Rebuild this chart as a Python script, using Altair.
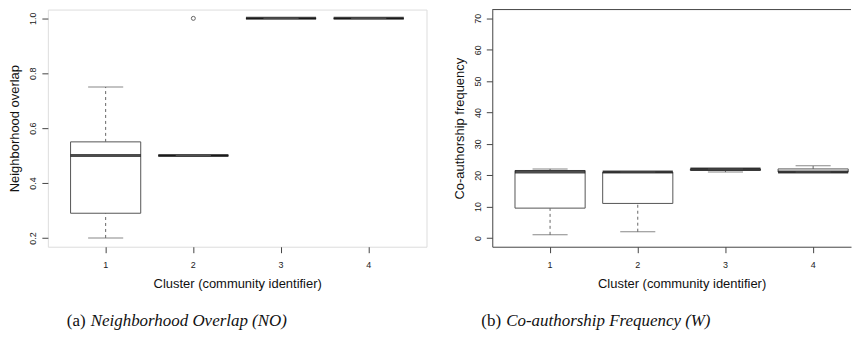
import altair as alt
import pandas as pd

clusters = ["1", "2", "3", "4"]

# (a) Neighborhood overlap (NO) per cluster: whisker low, Q1, median, Q3, whisker high
no_low = [0.20, 0.50, 1.00, 1.00]
no_q1 = [0.29, 0.50, 1.00, 1.00]
no_med = [0.50, 0.50, 1.00, 1.00]
no_q3 = [0.55, 0.50, 1.00, 1.00]
no_high = [0.75, 0.50, 1.00, 1.00]
no_out_cluster = ["2"]
no_out_value = [1.0]
no_ticks = [0.2, 0.4, 0.6, 0.8, 1.0]

# (b) Co-authorship frequency (W) per cluster
w_low = [1, 2, 21, 21]
w_q1 = [9.5, 11, 21.5, 21]
w_med = [21, 21, 22, 21]
w_q3 = [21.5, 21, 22, 22]
w_high = [22, 21, 22, 23]
w_out_cluster = []
w_out_value = []
w_ticks = [0, 10, 20, 30, 40, 50, 60, 70]

SANS = "Liberation Sans"
SERIF = "Liberation Serif"
FULL_W, PLOT_H = 380, 238
STEP = 88.0               # pixel distance between clusters
FIRST = 58.0              # centre of first cluster from the left frame
FRAME = "#444"


def panel(low, q1, med, q3, high, out_c, out_v, ydomain, yticks, yfmt, ytitle,
          cap_label, cap_text, cap_x, text_x, view_w, cut_right):
    df = pd.DataFrame({"cluster": clusters, "low": low, "q1": q1, "med": med,
                       "q3": q3, "high": high})
    p_outer = (view_w / STEP - 3.8) / 2
    align = (FIRST - 0.4 * STEP) / (view_w - 3.8 * STEP)
    xscale = alt.Scale(type="band", paddingInner=0.2, paddingOuter=p_outer,
                       align=align)
    xaxis = alt.Axis(title="Cluster (community identifier)", labelAngle=0,
                     domain=cut_right, domainColor=FRAME, domainWidth=1,
                     grid=False, tickSize=6, tickColor=FRAME,
                     labelFont=SANS, labelFontSize=9, labelColor="#222",
                     labelPadding=8, titleFont=SANS, titleFontSize=13,
                     titleFontWeight="normal", titleColor="#111",
                     titlePadding=8, titleX=FULL_W / 2)
    yscale = alt.Scale(domain=ydomain, nice=False, zero=False)
    yaxis = alt.Axis(title=ytitle, values=yticks, format=yfmt, labelAngle=270,
                     labelAlign="center", labelBaseline="alphabetic",
                     labelPadding=6, labelFlush=False, labelOverlap=False,
                     labelSeparation=0, labelBound=False,
                     domain=cut_right, domainColor=FRAME, domainWidth=1,
                     grid=False, tickSize=6, tickColor=FRAME, labelFont=SANS,
                     labelFontSize=9, labelColor="#222", titleFont=SANS,
                     titleFontSize=13, titleFontWeight="normal",
                     titleColor="#111", titlePadding=7)
    x = alt.X("cluster:O", scale=xscale, axis=xaxis)
    base = alt.Chart(df)

    wh_hi = base.mark_rule(color="#666", strokeDash=[3, 3], strokeWidth=1).encode(
        x=x, y=alt.Y("q3:Q", scale=yscale, axis=yaxis), y2="high:Q")
    wh_lo = base.mark_rule(color="#666", strokeDash=[3, 3], strokeWidth=1).encode(
        x=x, y=alt.Y("low:Q", scale=yscale, axis=yaxis), y2="q1:Q")
    box = base.mark_bar(fill="white", stroke="#555", strokeWidth=1).encode(
        x=x, y=alt.Y("q1:Q", scale=yscale, axis=yaxis), y2="q3:Q")
    median = base.mark_tick(color="black", thickness=3, size=0.8 * STEP).encode(
        x=x, y=alt.Y("med:Q", scale=yscale, axis=yaxis))
    st_hi = base.mark_tick(color="#555", thickness=1, size=0.4 * STEP).encode(
        x=x, y=alt.Y("high:Q", scale=yscale, axis=yaxis))
    st_lo = base.mark_tick(color="#555", thickness=1, size=0.4 * STEP).encode(
        x=x, y=alt.Y("low:Q", scale=yscale, axis=yaxis))
    layers = [wh_hi, wh_lo, box, median, st_hi, st_lo]
    if out_c:
        odf = pd.DataFrame({"cluster": out_c, "value": out_v})
        outl = alt.Chart(odf).mark_point(shape="circle", filled=False,
                                         color="#222", size=16,
                                         strokeWidth=1).encode(
            x=x, y=alt.Y("value:Q", scale=yscale, axis=yaxis))
        layers.append(outl)
    if cut_right:
        top = alt.Chart(pd.DataFrame({"k": [0]})).mark_rule(
            color=FRAME, strokeWidth=1).encode(
            x=alt.value(0), x2=alt.value(view_w), y=alt.value(0))
        layers.append(top)
    cap1 = alt.Chart(pd.DataFrame({"t": [cap_label]})).mark_text(
        font=SERIF, fontSize=17, align="left", baseline="alphabetic",
        color="#111").encode(text="t:N", x=alt.value(cap_x), y=alt.value(318))
    cap2 = alt.Chart(pd.DataFrame({"t": [cap_text]})).mark_text(
        font=SERIF, fontSize=17, fontStyle="italic", align="left",
        baseline="alphabetic", color="#111").encode(
        text="t:N", x=alt.value(text_x), y=alt.value(318))
    layers += [cap1, cap2]
    ch = alt.layer(*layers).properties(width=view_w, height=PLOT_H)
    if cut_right:
        ch = ch.properties(view=alt.ViewBackground(stroke="transparent"))
    return ch


left = panel(no_low, no_q1, no_med, no_q3, no_high, no_out_cluster,
             no_out_value, [0.168, 1.032], no_ticks, ".1f",
             "Neighborhood overlap", "(a)", "Neighborhood Overlap (NO)", 19, 43,
             FULL_W, False)
right = panel(w_low, w_q1, w_med, w_q3, w_high, w_out_cluster, w_out_value,
              [-2.8, 72.8], w_ticks, "d", "Co-authorship frequency", "(b)",
              "Co-authorship Frequency (W)", -11, 14, 360, True)

chart = alt.hconcat(left, right, spacing=25).properties(
    padding={"left": 0, "top": 0, "right": 0, "bottom": 0}
).configure_view(stroke=FRAME, strokeWidth=1).configure_axisY(
    labelOverlap=False
).configure(background="white")

chart.save("out.html", embed_options={"renderer": "svg", "actions": False})
